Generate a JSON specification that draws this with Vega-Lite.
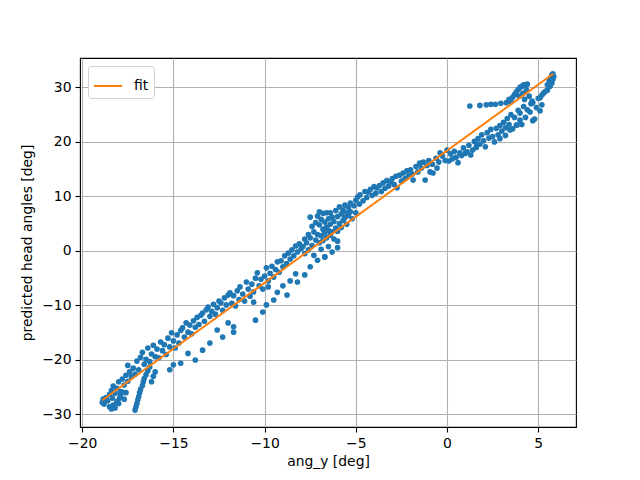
{
  "$schema": "https://vega.github.io/schema/vega-lite/v6.json",
  "width": 496,
  "height": 369,
  "autosize": "none",
  "padding": {"left": 80, "top": 58, "right": 64, "bottom": 53},
  "background": "white",
  "config": {
    "font": "DejaVu Sans",
    "view": {"stroke": "black", "strokeWidth": 1.1},
    "axis": {
      "labelFont": "DejaVu Sans",
      "titleFont": "DejaVu Sans",
      "labelFontSize": 13.9,
      "titleFontSize": 13.9,
      "titleFontWeight": "normal",
      "labelColor": "black",
      "titleColor": "black",
      "tickColor": "black",
      "tickSize": 5,
      "tickWidth": 1.1,
      "labelPadding": 4,
      "domain": false,
      "gridColor": "#b0b0b0",
      "gridWidth": 1.1,
      "gridOpacity": 1
    },
    "legend": {
      "orient": "top-left",
      "offset": 8,
      "strokeColor": "#d0d0d0",
      "fillColor": "white",
      "cornerRadius": 3,
      "padding": 5,
      "labelFont": "DejaVu Sans",
      "labelFontSize": 13.9,
      "labelColor": "black",
      "symbolType": "stroke",
      "symbolStrokeWidth": 2,
      "symbolSize": 784,
      "labelOffset": 11
    }
  },
  "datasets": {
    "points": [
      {"x":-18.9,"y":-27.8},{"x":-18.85,"y":-27.2},{"x":-18.8,"y":-28.1},{"x":-18.7,"y":-26.9},{"x":-18.6,"y":-27.5},{"x":-18.5,"y":-26.3},{"x":-18.4,"y":-25.6},{"x":-18.35,"y":-27.0},{"x":-18.3,"y":-24.8},{"x":-18.2,"y":-26.1},{"x":-18.1,"y":-25.2},{"x":-18.0,"y":-24.0},{"x":-17.9,"y":-25.8},{"x":-17.8,"y":-23.5},{"x":-17.7,"y":-24.6},{"x":-17.6,"y":-22.8},{"x":-17.5,"y":-21.0},{"x":-17.5,"y":-23.9},{"x":-17.4,"y":-22.2},{"x":-17.3,"y":-23.1},{"x":-17.2,"y":-21.5},{"x":-17.1,"y":-22.6},{"x":-17.0,"y":-20.2},{"x":-16.9,"y":-21.8},{"x":-16.8,"y":-19.5},{"x":-16.7,"y":-18.6},{"x":-16.6,"y":-20.8},{"x":-16.5,"y":-19.9},{"x":-16.4,"y":-17.8},{"x":-16.3,"y":-20.3},{"x":-16.2,"y":-18.9},{"x":-16.1,"y":-17.3},{"x":-16.0,"y":-19.4},
      {"x":-18.5,"y":-28.6},{"x":-18.4,"y":-29.0},{"x":-18.3,"y":-28.3},{"x":-18.2,"y":-28.8},{"x":-18.1,"y":-27.6},{"x":-18.0,"y":-28.0},{"x":-17.95,"y":-27.0},{"x":-17.9,"y":-26.4},{"x":-17.8,"y":-25.9},{"x":-17.7,"y":-27.2},{"x":-17.6,"y":-26.0},
      {"x":-17.1,"y":-29.2},{"x":-17.05,"y":-28.6},{"x":-17.0,"y":-28.0},{"x":-16.95,"y":-27.3},{"x":-16.9,"y":-26.7},{"x":-16.85,"y":-26.0},{"x":-16.8,"y":-25.4},{"x":-16.7,"y":-24.7},{"x":-16.65,"y":-24.0},{"x":-16.6,"y":-23.4},{"x":-16.5,"y":-22.7},{"x":-16.4,"y":-22.0},{"x":-16.3,"y":-21.3},{"x":-16.2,"y":-24.0},{"x":-16.1,"y":-23.0},{"x":-16.0,"y":-22.2},
      {"x":-15.9,"y":-18.0},{"x":-15.8,"y":-19.6},{"x":-15.7,"y":-16.7},{"x":-15.6,"y":-18.3},{"x":-15.5,"y":-17.2},{"x":-15.4,"y":-19.0},{"x":-15.3,"y":-16.0},{"x":-15.2,"y":-17.6},{"x":-15.1,"y":-15.0},{"x":-15.0,"y":-16.5},{"x":-14.9,"y":-17.8},{"x":-14.8,"y":-15.4},{"x":-14.7,"y":-16.9},{"x":-14.6,"y":-14.6},{"x":-14.5,"y":-14.1},{"x":-14.4,"y":-15.8},{"x":-14.3,"y":-13.2},{"x":-14.2,"y":-14.9},{"x":-14.1,"y":-13.6},{"x":-14.0,"y":-15.2},{"x":-13.9,"y":-12.8},{"x":-13.8,"y":-14.0},{"x":-13.7,"y":-12.2},{"x":-13.6,"y":-13.5},{"x":-13.5,"y":-11.8},{"x":-13.4,"y":-11.4},{"x":-13.3,"y":-12.9},{"x":-13.2,"y":-10.8},{"x":-13.1,"y":-10.3},{"x":-13.0,"y":-12.0},{"x":-12.9,"y":-11.1},{"x":-12.8,"y":-9.8},{"x":-12.7,"y":-11.6},{"x":-12.6,"y":-10.4},{"x":-12.5,"y":-9.2},{"x":-12.4,"y":-9.5},{"x":-12.3,"y":-10.9},{"x":-12.2,"y":-8.6},{"x":-12.1,"y":-9.9},{"x":-12.0,"y":-8.1},
      {"x":-15.2,"y":-21.8},{"x":-15.0,"y":-20.9},{"x":-14.6,"y":-20.6},{"x":-14.2,"y":-18.8},{"x":-13.8,"y":-20.0},{"x":-13.4,"y":-18.2},{"x":-13.0,"y":-16.9},{"x":-12.6,"y":-14.5},{"x":-12.3,"y":-15.8},{"x":-12.0,"y":-13.2},
      {"x":-11.9,"y":-7.7},{"x":-11.8,"y":-9.6},{"x":-11.7,"y":-8.2},{"x":-11.6,"y":-10.1},{"x":-11.5,"y":-7.3},{"x":-11.4,"y":-8.9},{"x":-11.35,"y":-6.6},{"x":-11.2,"y":-7.9},{"x":-11.1,"y":-9.2},{"x":-11.0,"y":-5.7},{"x":-10.9,"y":-7.0},{"x":-10.8,"y":-8.3},{"x":-10.7,"y":-6.1},{"x":-10.6,"y":-7.5},{"x":-10.5,"y":-5.0},{"x":-10.4,"y":-4.0},{"x":-10.3,"y":-6.4},{"x":-10.2,"y":-5.2},{"x":-10.1,"y":-7.0},{"x":-10.0,"y":-4.6},{"x":-9.9,"y":-3.1},{"x":-9.8,"y":-5.5},{"x":-9.7,"y":-4.1},{"x":-9.6,"y":-2.8},{"x":-9.5,"y":-4.8},{"x":-9.4,"y":-3.4},{"x":-9.3,"y":-2.0},{"x":-9.2,"y":-3.9},{"x":-9.1,"y":-1.8},{"x":-9.0,"y":-2.9},{"x":-8.9,"y":-0.9},{"x":-8.8,"y":-2.3},{"x":-8.7,"y":-0.4},{"x":-8.6,"y":-1.5},{"x":-8.5,"y":0.2},{"x":-8.4,"y":-0.9},{"x":-8.3,"y":0.9},{"x":-8.2,"y":-0.2},{"x":-8.1,"y":1.3},{"x":-8.0,"y":0.4},
      {"x":-11.7,"y":-13.9},{"x":-11.7,"y":-14.9},{"x":-10.5,"y":-12.7},{"x":-10.1,"y":-11.2},{"x":-9.9,"y":-9.9},{"x":-9.5,"y":-9.0},{"x":-9.3,"y":-7.6},{"x":-9.0,"y":-6.4},{"x":-8.6,"y":-5.5},{"x":-8.3,"y":-4.2},{"x":-10.6,"y":-9.4},{"x":-9.8,"y":-6.6},{"x":-8.77,"y":-8.1},{"x":-8.2,"y":-5.7},
      {"x":-7.9,"y":0.8},{"x":-7.8,"y":2.2},{"x":-7.8,"y":-0.5},{"x":-7.7,"y":1.5},{"x":-7.6,"y":3.0},{"x":-7.6,"y":0.2},{"x":-7.5,"y":6.2},{"x":-7.5,"y":2.4},{"x":-7.4,"y":4.5},{"x":-7.4,"y":1.0},{"x":-7.3,"y":3.5},{"x":-7.3,"y":-0.8},{"x":-7.2,"y":5.2},{"x":-7.2,"y":2.0},{"x":-7.1,"y":6.4},{"x":-7.1,"y":3.0},{"x":-7.0,"y":7.2},{"x":-7.0,"y":4.8},{"x":-7.0,"y":1.5},{"x":-6.9,"y":5.8},{"x":-6.9,"y":2.8},{"x":-6.9,"y":0.3},{"x":-6.8,"y":6.9},{"x":-6.8,"y":4.0},{"x":-6.8,"y":1.9},{"x":-6.7,"y":5.3},{"x":-6.7,"y":3.3},{"x":-6.7,"y":-1.1},{"x":-6.6,"y":7.0},{"x":-6.6,"y":4.4},{"x":-6.6,"y":2.4},{"x":-6.5,"y":5.9},{"x":-6.5,"y":3.8},{"x":-6.5,"y":0.8},{"x":-6.4,"y":7.0},{"x":-6.4,"y":4.9},{"x":-6.4,"y":2.9},{"x":-6.3,"y":6.2},{"x":-6.3,"y":3.5},{"x":-6.2,"y":5.4},{"x":-6.2,"y":2.2},{"x":-6.1,"y":7.4},{"x":-6.1,"y":4.2},{"x":-6.0,"y":6.3},{"x":-6.0,"y":3.6},{"x":-6.0,"y":1.8},{"x":-5.9,"y":8.1},{"x":-5.9,"y":5.0},{"x":-5.8,"y":6.8},{"x":-5.8,"y":4.3},{"x":-5.7,"y":7.5},{"x":-5.7,"y":5.6},{"x":-5.6,"y":8.4},{"x":-5.6,"y":6.1},{"x":-5.5,"y":7.0},{"x":-5.5,"y":4.9},{"x":-5.4,"y":8.0},{"x":-5.4,"y":6.5},{"x":-5.3,"y":8.8},{"x":-5.3,"y":7.2},{"x":-5.2,"y":5.9},{"x":-5.1,"y":8.3},{"x":-5.0,"y":9.3},{"x":-5.0,"y":7.0},
      {"x":-7.8,"y":-4.4},{"x":-7.5,"y":-2.9},{"x":-7.1,"y":-1.7},{"x":-6.7,"y":-1.1},{"x":-6.3,"y":-0.2},{"x":-6.0,"y":0.6},
      {"x":-4.9,"y":9.9},{"x":-4.8,"y":8.6},{"x":-4.77,"y":10.3},{"x":-4.6,"y":9.2},{"x":-4.5,"y":10.9},{"x":-4.4,"y":9.8},{"x":-4.33,"y":10.8},{"x":-4.2,"y":11.3},{"x":-4.1,"y":10.2},{"x":-4.0,"y":11.8},{"x":-3.9,"y":10.6},{"x":-3.84,"y":11.6},{"x":-3.7,"y":12.0},{"x":-3.6,"y":10.9},{"x":-3.5,"y":12.5},{"x":-3.4,"y":11.5},{"x":-3.3,"y":12.9},{"x":-3.2,"y":11.9},{"x":-3.1,"y":12.7},{"x":-3.0,"y":13.3},{"x":-2.9,"y":12.2},{"x":-2.8,"y":13.7},{"x":-2.74,"y":11.6},{"x":-2.6,"y":13.9},{"x":-2.5,"y":12.8},{"x":-2.4,"y":14.3},{"x":-2.3,"y":13.3},{"x":-2.2,"y":14.7},{"x":-2.1,"y":13.8},{"x":-2.0,"y":14.9},{"x":-1.9,"y":14.1},{"x":-1.86,"y":13.0},{"x":-1.7,"y":15.5},{"x":-1.6,"y":14.5},{"x":-1.5,"y":16.1},{"x":-1.4,"y":15.2},{"x":-1.3,"y":16.3},{"x":-1.2,"y":13.0},{"x":-1.1,"y":15.7},{"x":-1.0,"y":16.6},{"x":-0.93,"y":14.5},{"x":-0.8,"y":15.9},{"x":-0.77,"y":14.3},{"x":-0.6,"y":17.0},{"x":-0.55,"y":15.2},{"x":-0.45,"y":16.3},{"x":-0.38,"y":18.0},{"x":-0.25,"y":17.4},{"x":-0.1,"y":16.6},{"x":0.0,"y":18.5},
      {"x":0.1,"y":16.5},{"x":0.2,"y":17.8},{"x":0.3,"y":16.9},{"x":0.4,"y":18.3},{"x":0.5,"y":17.2},{"x":0.6,"y":16.2},{"x":0.7,"y":18.0},{"x":0.8,"y":17.5},{"x":0.9,"y":18.9},{"x":1.0,"y":17.9},{"x":1.1,"y":18.2},{"x":1.2,"y":19.4},{"x":1.3,"y":17.6},{"x":1.4,"y":18.5},{"x":1.5,"y":20.1},{"x":1.6,"y":19.0},{"x":1.7,"y":20.6},{"x":1.8,"y":19.6},{"x":1.9,"y":21.3},{"x":2.0,"y":20.2},{"x":2.1,"y":19.1},{"x":2.2,"y":21.7},{"x":2.3,"y":20.7},{"x":2.4,"y":22.3},{"x":2.5,"y":21.0},{"x":2.6,"y":20.0},{"x":2.7,"y":22.5},{"x":2.8,"y":21.3},{"x":2.9,"y":23.0},{"x":3.0,"y":22.0},{"x":3.1,"y":23.6},{"x":3.2,"y":22.6},{"x":3.3,"y":24.3},{"x":3.4,"y":23.2},{"x":3.5,"y":25.0},{"x":3.6,"y":22.4},{"x":3.7,"y":24.5},{"x":3.8,"y":23.1},{"x":3.9,"y":25.8},{"x":4.0,"y":25.3},{"x":4.0,"y":24.0},
      {"x":1.25,"y":26.6},{"x":1.8,"y":26.7},{"x":2.15,"y":26.8},{"x":2.4,"y":26.9},{"x":2.65,"y":26.9},{"x":2.95,"y":27.1},{"x":3.25,"y":27.2},{"x":3.5,"y":27.4},
      {"x":3.4,"y":27.8},{"x":3.6,"y":28.2},{"x":3.7,"y":28.7},{"x":3.8,"y":29.2},{"x":3.9,"y":29.6},{"x":4.0,"y":30.0},{"x":4.1,"y":30.2},{"x":4.2,"y":30.5},{"x":4.3,"y":30.3},{"x":4.4,"y":30.6},{"x":4.35,"y":29.5},{"x":4.15,"y":28.9},{"x":3.95,"y":28.4},{"x":4.25,"y":27.8},{"x":4.5,"y":28.4},
      {"x":4.2,"y":26.5},{"x":4.4,"y":25.9},{"x":4.55,"y":25.5},{"x":4.6,"y":27.0},{"x":4.7,"y":27.2},{"x":4.8,"y":24.2},{"x":4.9,"y":26.3},{"x":5.0,"y":28.0},{"x":5.1,"y":28.1},{"x":5.2,"y":28.6},{"x":5.3,"y":29.0},{"x":5.4,"y":29.3},{"x":5.5,"y":29.5},{"x":5.5,"y":30.5},{"x":5.6,"y":31.2},{"x":5.65,"y":30.2},{"x":5.7,"y":31.8},{"x":5.75,"y":32.3},{"x":5.8,"y":32.5},{"x":5.8,"y":31.5},{"x":5.85,"y":32.0},{"x":5.75,"y":30.8},{"x":4.3,"y":24.5},{"x":4.1,"y":23.2},{"x":3.2,"y":21.2},{"x":2.9,"y":20.6},{"x":3.45,"y":22.2},{"x":3.84,"y":23.1},{"x":5.1,"y":25.7},{"x":5.2,"y":26.8},{"x":4.7,"y":23.9},{"x":4.66,"y":27.5},{"x":1.64,"y":19.5}
    ],
    "fit": [
      {"x":-18.9,"y":-27.4,"label":"fit"},
      {"x":5.82,"y":32.5,"label":"fit"}
    ]
  },
  "layer": [
    {
      "data": {"name": "points"},
      "mark": {"type": "circle", "size": 32, "color": "#1f77b4", "opacity": 1},
      "encoding": {
        "x": {
          "field": "x", "type": "quantitative", "title": "ang_y [deg]",
          "scale": {"domain": [-20.12, 7.07], "nice": false, "zero": false},
          "axis": {"values": [-20, -15, -10, -5, 0, 5], "titlePadding": 5}
        },
        "y": {
          "field": "y", "type": "quantitative", "title": "predicted head angles [deg]",
          "scale": {"domain": [-32.3, 35.4], "nice": false, "zero": false},
          "axis": {"values": [-30, -20, -10, 0, 10, 20, 30], "titlePadding": 7}
        }
      }
    },
    {
      "data": {"name": "fit"},
      "mark": {"type": "line", "strokeWidth": 2},
      "encoding": {
        "x": {"field": "x", "type": "quantitative"},
        "y": {"field": "y", "type": "quantitative"},
        "color": {
          "field": "label", "type": "nominal",
          "scale": {"range": ["#ff7f0e"]},
          "legend": {"title": null}
        }
      }
    }
  ]
}
